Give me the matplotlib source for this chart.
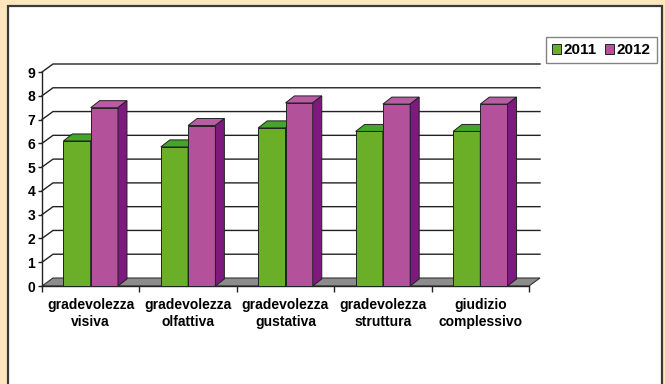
import numpy as np
import matplotlib.pyplot as plt
from matplotlib.patches import Polygon, Rectangle, Patch

plt.rcParams['font.family'] = ['Liberation Sans', 'DejaVu Sans']
plt.rcParams['font.weight'] = 'bold'

categories = ["gradevolezza\nvisiva", "gradevolezza\nolfattiva", "gradevolezza\ngustativa",
              "gradevolezza\nstruttura", "giudizio\ncomplessivo"]
series = ["2011", "2012"]
vals_2011 = [6.1, 5.85, 6.65, 6.5, 6.5]
vals_2012 = [7.5, 6.75, 7.7, 7.65, 7.65]
yticks = list(range(0, 10))

# colours: front, top, side
col_2011 = ("#6aaf27", "#43a62a", "#3d8a1c")
col_2012 = ("#b3529a", "#b85ca4", "#7e1a7e")

W, H = 665, 384
fig = plt.figure(figsize=(W / 100, H / 100), dpi=100, facecolor="#ffe6bf")

# white panel
fig.patches.append(Rectangle((8 / W, -0.05), 654 / W, 1 - 6 / H + 0.05, transform=fig.transFigure,
                             facecolor="white", edgecolor="#3a3a3a", lw=1.6, zorder=-10))

ax = fig.add_axes([42 / W, 98 / H, 487 / W, 214 / H])
ax.set_xlim(-0.5, 4.5)
ax.set_ylim(0, 9)
ax.patch.set_visible(False)
for s in ["top", "right", "bottom"]:
    ax.spines[s].set_visible(False)
ax.spines["left"].set_color("#222222")
ax.spines["left"].set_linewidth(1.0)

# depth offsets in data units (px / px-per-unit)
ppx = 487 / 5.0
ppy = 214 / 9.0
wdx, wdy = 11 / ppx, 8 / ppy   # back wall
bdx, bdy = 9 / ppx, 7 / ppy    # bar depth

x = np.arange(len(categories))

# floor
floor = Polygon([(-0.5, 0), (4.5, 0), (4.5 + wdx, wdy), (-0.5 + wdx, wdy)], closed=True,
                facecolor="#8c8c8c", edgecolor="#333333", lw=0.8, clip_on=False, zorder=1)
ax.add_patch(floor)

# back-wall gridlines
for v in yticks[1:]:
    ax.plot([-0.5, -0.5 + wdx, 4.5 + wdx], [v, v + wdy, v + wdy], color="#222222", lw=1.0,
            clip_on=False, zorder=1)

# x axis front line
ax.plot([-0.5, 4.5], [0, 0], color="#222222", lw=1.0, clip_on=False, zorder=2)

bw = 0.28
for off, vals, (cf, ct, cs) in [(-0.14, vals_2011, col_2011), (0.14, vals_2012, col_2012)]:
    xs = x + off
    ax.bar(xs, vals, width=bw, color=cf, edgecolor="#222222", lw=0.7, zorder=3)
    for xc, h in zip(xs, vals):
        x0, x1 = xc - bw / 2, xc + bw / 2
        ax.add_patch(Polygon([(x0, h), (x1, h), (x1 + bdx, h + bdy), (x0 + bdx, h + bdy)],
                             facecolor=ct, edgecolor="#222222", lw=0.7, zorder=3, clip_on=False))
        ax.add_patch(Polygon([(x1, 0), (x1 + bdx, bdy), (x1 + bdx, h + bdy), (x1, h)],
                             facecolor=cs, edgecolor="#222222", lw=0.7, zorder=3, clip_on=False))

ax.set_yticks(yticks)
ax.set_yticklabels([str(t) for t in yticks], fontsize=10, fontweight="bold")
ax.tick_params(axis="y", length=3, width=1, color="#222222", pad=2)

ax.set_xticks(x)
ax.set_xticklabels(categories, fontsize=10, fontweight="bold", linespacing=1.2)
ax.set_xticks(np.arange(-0.5, 5.0, 1.0), minor=True)
ax.tick_params(axis="x", which="major", length=0, pad=9)
ax.tick_params(axis="x", which="minor", length=4, width=1, color="#222222", direction="out")
ax.spines["bottom"].set_visible(False)

handles = [Patch(facecolor=col_2011[0], edgecolor="#222222", lw=0.7),
           Patch(facecolor=col_2012[0], edgecolor="#222222", lw=0.7)]
leg = fig.legend(handles, series, loc="upper right", bbox_to_anchor=(657 / W, 1 - 37 / H),
                 ncol=2, prop={"weight": "bold", "size": 11}, borderaxespad=0,
                 handlelength=0.6, handleheight=0.6, handletextpad=0.2, columnspacing=0.5,
                 borderpad=0.4, frameon=True, fancybox=False)
leg.get_frame().set_edgecolor("#666666")
leg.get_frame().set_linewidth(1.0)

fig.savefig("out.png", dpi=100, facecolor=fig.get_facecolor())
